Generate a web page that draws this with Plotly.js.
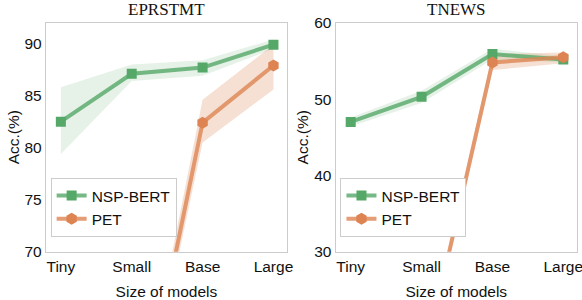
<!DOCTYPE html>
<html><head><meta charset="utf-8">
<script src="https://cdn.plot.ly/plotly-3.0.1.min.js"></script>
<style>html,body{margin:0;padding:0;background:#fff}</style>
</head><body>
<div id="chart" style="width:582px;height:300px"></div>
<script>
const sizes = ["Tiny", "Small", "Base", "Large"];
// EPRSTMT
const eprNsp = [82.5, 87.1, 87.7, 89.9];
const eprNspHi = [85.8, 88.0, 88.4, 90.4];
const eprNspLo = [79.4, 86.4, 86.9, 89.5];
const eprPet = [48.5, 49.4, 82.4, 87.9];
const eprPetHi = [49.5, 50.4, 84.6, 89.9];
const eprPetLo = [47.5, 48.4, 80.5, 85.6];
// TNEWS
const tnNsp = [47.0, 50.3, 55.9, 55.2];
const tnNspHi = [47.6, 51.1, 56.6, 55.6];
const tnNspLo = [46.4, 49.5, 55.2, 54.8];
const tnPet = [12.5, 14.1, 54.8, 55.5];
const tnPetHi = [13.5, 15.1, 55.9, 56.1];
const tnPetLo = [11.5, 13.1, 53.8, 54.7];

const GREEN = "#55a868", ORANGE = "#dd8452";
const GLINE = "rgba(85,168,104,0.8)", OLINE = "rgba(221,132,82,0.8)";
const GBAND = "rgba(85,168,104,0.15)", OBAND = "rgba(221,132,82,0.25)";

function band(lo, hi, fill, xa, ya) {
  return [
    {x: sizes, y: lo, xaxis: xa, yaxis: ya, mode: "lines", line: {width: 0, color: fill}, showlegend: false, hoverinfo: "skip"},
    {x: sizes, y: hi, xaxis: xa, yaxis: ya, mode: "lines", line: {width: 0, color: fill}, fill: "tonexty", fillcolor: fill, showlegend: false, hoverinfo: "skip"}
  ];
}
function line(y, name, lc, mc, sym, sz, xa, ya, leg) {
  return {x: sizes, y: y, xaxis: xa, yaxis: ya, name: name, mode: "lines+markers", legend: leg,
    line: {color: lc, width: 4}, marker: {color: mc, symbol: sym, size: sz}, cliponaxis: true};
}
const data = [
  ...band(eprNspLo, eprNspHi, GBAND, "x", "y"),
  ...band(eprPetLo, eprPetHi, OBAND, "x", "y"),
  line(eprNsp, "NSP-BERT", GLINE, GREEN, "square", 10, "x", "y", "legend"),
  line(eprPet, "PET", OLINE, ORANGE, "hexagon", 12, "x", "y", "legend"),
  ...band(tnNspLo, tnNspHi, GBAND, "x2", "y2"),
  ...band(tnPetLo, tnPetHi, OBAND, "x2", "y2"),
  line(tnNsp, "NSP-BERT", GLINE, GREEN, "square", 10, "x2", "y2", "legend2"),
  line(tnPet, "PET", OLINE, ORANGE, "hexagon", 12, "x2", "y2", "legend2")
];
const tickFont = {family: "Liberation Sans, Arial, sans-serif", size: 15.5, color: "#111"};
const xbase = {type: "category", range: [-0.21, 3.19], showgrid: false, zeroline: false,
  showline: true, linecolor: "#cccccc", linewidth: 1.2, mirror: true, ticks: "", ticklen: 0,
  tickfont: tickFont, title: {text: "Size of models", font: tickFont, standoff: 12}, fixedrange: true};
const ybase = {showgrid: false, zeroline: false, showline: true, linecolor: "#cccccc", linewidth: 1.2,
  mirror: true, ticks: "", tickfont: tickFont, title: {text: "Acc.(%)", font: tickFont, standoff: 1}};
const legBase = {bgcolor: "#fff", bordercolor: "#cccccc", borderwidth: 1, traceorder: "normal",
  font: {family: "Liberation Sans, Arial, sans-serif", size: 15.5, color: "#111"},
  xanchor: "left", yanchor: "bottom", tracegroupgap: 0, itemwidth: 30};
const layout = {
  width: 582, height: 300, margin: {l: 0, r: 0, t: 0, b: 0},
  paper_bgcolor: "#fff", plot_bgcolor: "#fff", showlegend: true,
  xaxis: Object.assign({}, xbase, {domain: [0.079, 0.493], anchor: "y"}),
  yaxis: Object.assign({}, ybase, {domain: [0.161, 0.924], range: [70, 92], tickvals: [70, 75, 80, 85, 90], anchor: "x"}),
  xaxis2: Object.assign({}, xbase, {domain: [0.577, 0.991], anchor: "y2"}),
  yaxis2: Object.assign({}, ybase, {domain: [0.161, 0.924], range: [30, 60], tickvals: [30, 40, 50, 60], anchor: "x2"}),
  legend: Object.assign({}, legBase, {x: 0.087, y: 0.21}),
  legend2: Object.assign({}, legBase, {x: 0.585, y: 0.21}),
  annotations: [
    {text: "EPRSTMT", xref: "paper", yref: "paper", x: 0.286, y: 0.93, xanchor: "center", yanchor: "bottom", showarrow: false,
     font: {family: "Liberation Serif, Times New Roman, serif", size: 17, color: "#111"}},
    {text: "TNEWS", xref: "paper", yref: "paper", x: 0.784, y: 0.93, xanchor: "center", yanchor: "bottom", showarrow: false,
     font: {family: "Liberation Serif, Times New Roman, serif", size: 17, color: "#111"}}
  ]
};
Plotly.newPlot("chart", data, layout, {displayModeBar: false, staticPlot: true});
</script>
</body></html>
